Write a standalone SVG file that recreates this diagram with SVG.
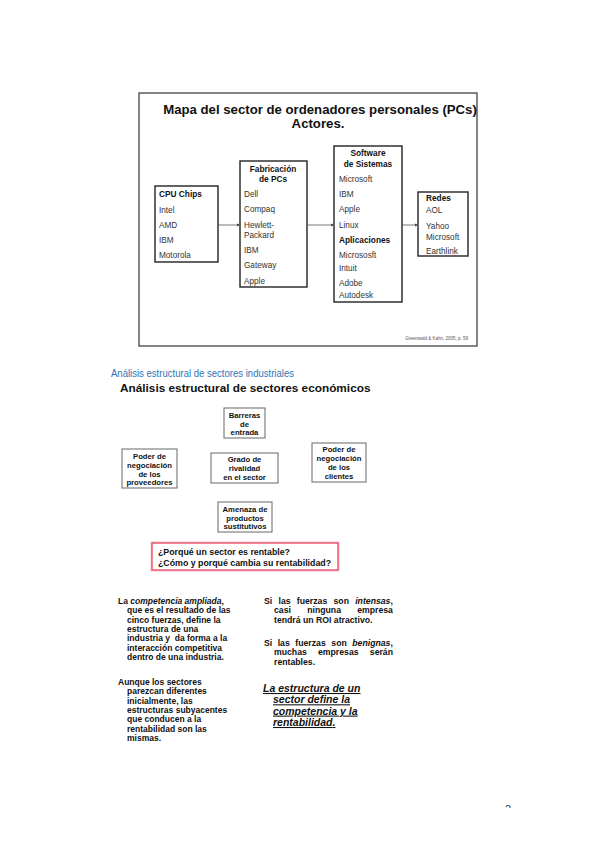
<svg xmlns="http://www.w3.org/2000/svg" width="599" height="848" viewBox="0 0 599 848">
<style>
text{font-family:"Liberation Sans",Arial,sans-serif;}
.box{fill:#fff;stroke:#222;stroke-width:1.4;}
.fbox{fill:#fff;stroke:#666;stroke-width:1;}
.it{font-size:8.2px;fill:#333;}
.hd{font-size:8.3px;font-weight:bold;fill:#111;}
.ff{font-size:7.7px;font-weight:bold;fill:#111;text-anchor:middle;}
.bd{font-size:8.5px;font-weight:bold;fill:#111;}
.rd{font-size:8.7px;font-weight:bold;fill:#111;}
.ul{font-size:10.5px;font-weight:bold;font-style:italic;fill:#111;text-decoration:underline;}
.con{stroke:#555;stroke-width:0.8;fill:none;marker-end:url(#ah);}
</style>
<defs>
<marker id="ah" viewBox="0 0 6 6" refX="6" refY="3" markerWidth="4" markerHeight="4" orient="auto"><path d="M0,0 L6,3 L0,6 z" fill="#444"/></marker>
<clipPath id="pg"><rect x="495" y="795" width="30" height="13"/></clipPath>
</defs>
<rect width="599" height="848" fill="#fff"/>

<g id="slide1">
<rect x="139" y="93" width="338" height="253" fill="#fff" stroke="#333" stroke-width="1.2"/>
<text x="320" y="114" text-anchor="middle" font-size="13.2" font-weight="bold" fill="#111">Mapa del sector de ordenadores personales (PCs)</text>
<text x="318" y="128" text-anchor="middle" font-size="13.2" font-weight="bold" fill="#111">Actores.</text>
<text x="468" y="340" text-anchor="end" font-size="4.5" fill="#555">Greenwald &amp; Kahn, 2005, p. 59</text>
</g>

<g id="cpu">
<rect class="box" x="155" y="186" width="63" height="76"/>
<text class="hd" x="159" y="197">CPU Chips</text>
<text class="it" x="159" y="213">Intel</text>
<text class="it" x="159" y="228">AMD</text>
<text class="it" x="159" y="243">IBM</text>
<text class="it" x="159" y="258">Motorola</text>
</g>

<g id="fabricacion">
<rect class="box" x="240" y="161" width="67" height="126"/>
<text class="hd" x="273" y="172" text-anchor="middle">Fabricación</text>
<text class="hd" x="273" y="182" text-anchor="middle">de  PCs</text>
<text class="it" x="244" y="197">Dell</text>
<text class="it" x="244" y="212">Compaq</text>
<text class="it" x="244" y="228">Hewlett-</text>
<text class="it" x="244" y="238">Packard</text>
<text class="it" x="244" y="253">IBM</text>
<text class="it" x="244" y="268">Gateway</text>
<text class="it" x="244" y="284">Apple</text>
</g>

<g id="software">
<rect class="box" x="334" y="146" width="68" height="156"/>
<text class="hd" x="368" y="156" text-anchor="middle">Software</text>
<text class="hd" x="368" y="167" text-anchor="middle">de Sistemas</text>
<text class="it" x="339" y="182">Microsoft</text>
<text class="it" x="339" y="197">IBM</text>
<text class="it" x="339" y="212">Apple</text>
<text class="it" x="339" y="228">Linux</text>
<text class="hd" x="339" y="243">Aplicaciones</text>
<text class="it" x="339" y="258">Micrososft</text>
<text class="it" x="339" y="271">Intuit</text>
<text class="it" x="339" y="286">Adobe</text>
<text class="it" x="339" y="298">Autodesk</text>
</g>

<g id="redes">
<rect class="box" x="418" y="192" width="50" height="64"/>
<text class="hd" x="426" y="201">Redes</text>
<text class="it" x="426" y="213">AOL</text>
<text class="it" x="426" y="229">Yahoo</text>
<text class="it" x="426" y="240">Microsoft</text>
<text class="it" x="426" y="254">Earthlink</text>
</g>

<g id="connectors">
<line class="con" x1="218" y1="225" x2="240" y2="225"/>
<line class="con" x1="307" y1="225" x2="334" y2="225"/>
<line class="con" x1="402" y1="225" x2="418" y2="225"/>
</g>

<text x="111" y="377" font-size="10.5" fill="#2E74B5" textLength="183" lengthAdjust="spacingAndGlyphs">Análisis estructural de sectores industriales</text>
<text x="120" y="392" font-size="11.8" font-weight="bold" fill="#111">Análisis estructural de sectores económicos</text>

<g id="barreras">
<rect class="fbox" x="224" y="408" width="41" height="30"/>
<text class="ff" x="244.5" y="418">Barreras</text>
<text class="ff" x="244.5" y="426.5">de</text>
<text class="ff" x="244.5" y="435">entrada</text>
</g>
<g id="proveedores">
<rect class="fbox" x="122" y="449" width="55" height="39"/>
<text class="ff" x="149.5" y="459">Poder de</text>
<text class="ff" x="149.5" y="468">negociación</text>
<text class="ff" x="149.5" y="476.5">de  los</text>
<text class="ff" x="149.5" y="485">proveedores</text>
</g>
<g id="rivalidad">
<rect class="fbox" x="211" y="453" width="67" height="30"/>
<text class="ff" x="244.5" y="462">Grado de</text>
<text class="ff" x="244.5" y="471">rivalidad</text>
<text class="ff" x="244.5" y="480">en el sector</text>
</g>
<g id="clientes">
<rect class="fbox" x="312" y="443" width="54" height="39"/>
<text class="ff" x="339" y="452">Poder de</text>
<text class="ff" x="339" y="461">negociación</text>
<text class="ff" x="339" y="470">de  los</text>
<text class="ff" x="339" y="479">clientes</text>
</g>
<g id="amenaza">
<rect class="fbox" x="218" y="502" width="54" height="30"/>
<text class="ff" x="245" y="512">Amenaza de</text>
<text class="ff" x="245" y="520.5">productos</text>
<text class="ff" x="245" y="529">sustitutivos</text>
</g>

<g id="pregunta">
<rect x="152" y="543" width="186" height="27" fill="none" stroke="#f4a3b0" stroke-width="3" opacity="0.6"/>
<rect x="152" y="543" width="186" height="27" fill="#fff" stroke="#e5506a" stroke-width="1.4"/>
<text x="158" y="555" font-size="8.8" font-weight="bold" fill="#111">¿Porqué un sector es rentable?</text>
<text x="158" y="565.5" font-size="8.8" font-weight="bold" fill="#111">¿Cómo y porqué cambia su rentabilidad?</text>
</g>

<g id="texto-izq">
<text class="bd" x="118" y="604">La <tspan font-style="italic">competencia ampliada</tspan>,</text>
<text class="bd" x="127" y="613.3">que es el resultado de las</text>
<text class="bd" x="127" y="622.6">cinco fuerzas, define la</text>
<text class="bd" x="127" y="631.9">estructura de una</text>
<text class="bd" x="127" y="641.2" xml:space="preserve">industria y  da forma a la</text>
<text class="bd" x="127" y="650.5">interacción competitiva</text>
<text class="bd" x="127" y="659.8">dentro de una industria.</text>
<text class="bd" x="118" y="685">Aunque los sectores</text>
<text class="bd" x="127" y="694.3">parezcan diferentes</text>
<text class="bd" x="127" y="703.6">inicialmente, las</text>
<text class="bd" x="127" y="712.9">estructuras subyacentes</text>
<text class="bd" x="127" y="722.2">que conducen a la</text>
<text class="bd" x="127" y="731.5">rentabilidad son las</text>
<text class="bd" x="127" y="740.8">mismas.</text>
</g>

<g id="texto-der">
<text class="rd" y="604"><tspan x="264">Si</tspan><tspan x="278.5">las</tspan><tspan x="296.8">fuerzas</tspan><tspan x="333.5">son</tspan><tspan x="355.2" font-style="italic">intensas</tspan>,</text>
<text class="rd" y="613.3"><tspan x="274">casi</tspan><tspan x="307.2">ninguna</tspan><tspan x="357.2">empresa</tspan></text>
<text class="rd" x="274" y="622.6">tendrá un ROI atractivo.</text>
<text class="rd" y="646"><tspan x="264">Si</tspan><tspan x="277.7">las</tspan><tspan x="295.3">fuerzas</tspan><tspan x="331.3">son</tspan><tspan x="352.3" font-style="italic">benignas</tspan>,</text>
<text class="rd" y="655.3"><tspan x="274">muchas</tspan><tspan x="318">empresas</tspan><tspan x="369.8">serán</tspan></text>
<text class="rd" x="274" y="664.6">rentables.</text>
<text class="ul" x="263" y="692">La estructura de un</text>
<text class="ul" x="273" y="703.3">sector define la</text>
<text class="ul" x="273" y="714.6">competencia y la</text>
<text class="ul" x="273" y="726">rentabilidad<tspan text-decoration="none">.</tspan></text>
</g>

<text x="505" y="813" font-size="11" fill="#444" clip-path="url(#pg)">2</text>
</svg>
